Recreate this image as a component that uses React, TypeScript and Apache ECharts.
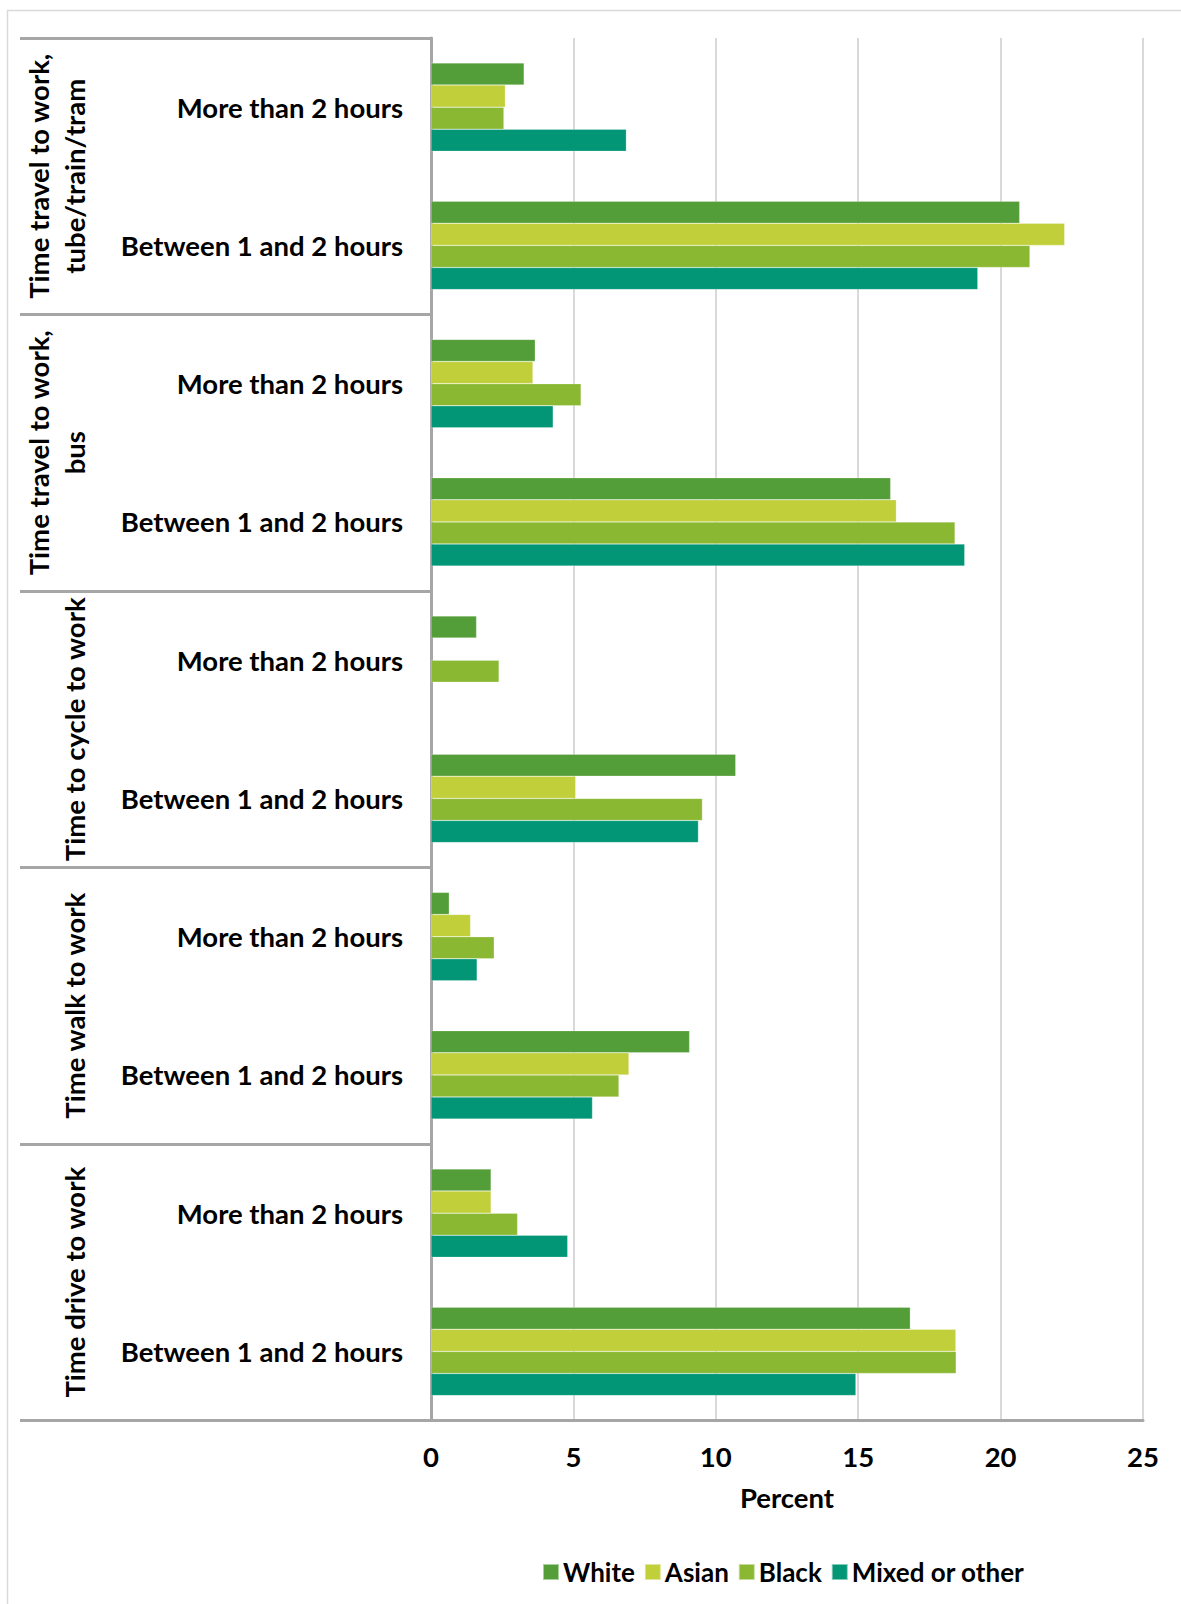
import React, { useEffect, useRef } from "react";
import * as echarts from "echarts";

const groups = [
  "Time travel to work,\ntube/train/tram",
  "Time travel to work,\nbus",
  "Time to cycle to work",
  "Time walk to work",
  "Time drive to work",
];
const durations = ["More than 2 hours", "Between 1 and 2 hours"];
const categoryKeys = groups.flatMap((g, gi) => durations.map((d) => `${gi}|${d}`));

const seriesNames = ["White", "Asian", "Black", "Mixed or other"];
const white = [3.27, 20.67, 3.66, 16.14, 1.6, 10.7, 0.64, 9.08, 2.11, 16.83];
const asian = [2.61, 22.25, 3.58, 16.34, null, 5.08, 1.39, 6.95, 2.11, 18.43];
const black = [2.56, 21.03, 5.27, 18.4, 2.39, 9.53, 2.22, 6.6, 3.04, 18.44];
const mixed = [6.86, 19.2, 4.29, 18.74, null, 9.39, 1.62, 5.67, 4.8, 14.92];
const seriesValues = [white, asian, black, mixed];
const colors = ["#549E39", "#C0CF3A", "#8AB833", "#029676"];

const xTicks = { min: 0, max: 25, interval: 5 };
const axisTitle = "Percent";

const FONT = "Lato";
const FS = 27.5;

export default function App() {
  const ref = useRef<HTMLDivElement>(null);
  useEffect(() => {
    if (!ref.current) return;
    const chart = echarts.init(ref.current, undefined, { renderer: "svg" });
    const textBase = { fontFamily: FONT, fontWeight: "bold" as const, color: "#000" };
    chart.setOption({
      animation: false,
      backgroundColor: "#fff",
      graphic: [
        {
          type: "rect",
          shape: { x: 7.5, y: 10.5, width: 1300, height: 1800 },
          style: { fill: "none", stroke: "#d9d9d9", lineWidth: 1.5 },
          silent: true,
          z: -1,
        },
      ],
      legend: {
        left: 542,
        top: 1559,
        padding: 0,
        icon: "rect",
        itemWidth: 16,
        itemHeight: 16,
        itemGap: 9,
        textStyle: { ...textBase, fontSize: 26, padding: [0, 0, 0, -1] },
        data: seriesNames,
      },
      grid: { left: 431, right: 38, top: 38, bottom: 183.5, containLabel: false },
      xAxis: {
        type: "value",
        min: xTicks.min,
        max: xTicks.max,
        interval: xTicks.interval,
        name: axisTitle,
        nameLocation: "middle",
        nameGap: 63,
        nameTextStyle: { ...textBase, fontSize: FS },
        axisLine: { show: true, lineStyle: { color: "#a6a6a6", width: 3 } },
        axisTick: { show: false },
        axisLabel: { ...textBase, fontSize: FS, margin: 22 },
        splitLine: { show: true, lineStyle: { color: "#d9d9d9", width: 2 } },
      },
      yAxis: [
        {
          type: "category",
          position: "left",
          inverse: true,
          data: categoryKeys,
          axisLine: { show: false },
          axisTick: { show: false },
          axisLabel: {
            ...textBase,
            fontSize: FS,
            margin: 28,
            interval: 0,
            padding: [0, 0, 4, 0],
            formatter: (v: string) => v.split("|")[1],
          },
        },
        {
          type: "category",
          position: "left",
          inverse: true,
          data: groups,
          axisLine: { show: true, lineStyle: { color: "#a6a6a6", width: 3 } },
          axisTick: {
            show: true,
            interval: 0,
            length: 411,
            lineStyle: { color: "#a6a6a6", width: 3 },
          },
          axisLabel: {
            ...textBase,
            fontSize: FS,
            lineHeight: 36,
            rotate: 90,
            interval: 0,
            margin: 339,
          },
        },
      ],
      series: seriesNames.map((name, i) => ({
        name,
        type: "bar",
        yAxisIndex: 0,
        data: seriesValues[i],
        barGap: "0%",
        barCategoryGap: "36%",
        itemStyle: { color: colors[i], borderColor: "rgba(255,255,255,0.5)", borderWidth: 0.5 },
      })),
    });
    return () => chart.dispose();
  }, []);
  return (
    <div
      ref={ref}
      style={{ position: "absolute", left: 0, top: 0, width: 1181, height: 1604 }}
    />
  );
}
